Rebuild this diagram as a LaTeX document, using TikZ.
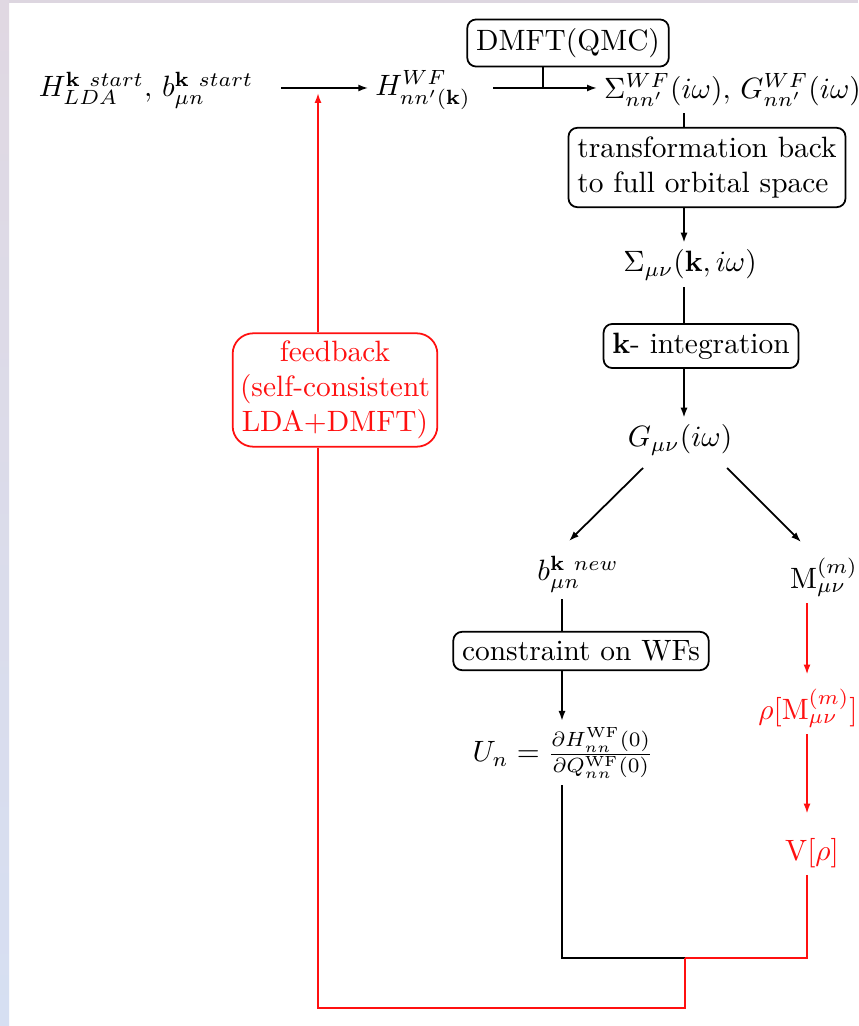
\documentclass[tikz,border=0pt]{standalone}
\usetikzlibrary{arrows.meta}
\definecolor{bandtop}{HTML}{DDD6E0}
\definecolor{stripA}{HTML}{E0D8E2}
\definecolor{stripB}{HTML}{C0CFEE}
\definecolor{stripC}{HTML}{D6DFF2}
\definecolor{fbred}{HTML}{FF1010}
\begin{document}
\begin{tikzpicture}[x=0.34pt,y=-0.34pt,
  box/.style={draw, rounded corners=3pt, inner sep=3pt, line width=0.6pt},
  lbl/.style={inner sep=2.2pt},
  conn/.style={line width=0.6pt},
  arr/.style={conn,-{Latex[length=3.4pt,width=2.4pt]}},
  redc/.style={draw=fbred, text=fbred}]
% background
\fill[white] (0,0) rectangle (858,1026);
\fill[bandtop] (0,0) rectangle (858,3);
\shade[top color=stripA, middle color=stripB, bottom color=stripC] (0,0) rectangle (9,1026);
\useasboundingbox (0,0) rectangle (858,1026);

% nodes
\node[lbl] (start) at (146,90) {$H_{LDA}^{\mathbf{k}\ start},\, b_{\mu n}^{\mathbf{k}\ start}$};
\node[lbl] (hwf) at (423,90) {$H^{WF}_{nn'(\mathbf{k})}$};
\node[lbl, anchor=west] (sigwf) at (597,90) {$\Sigma^{WF}_{nn'}(i\omega),\, G^{WF}_{nn'}(i\omega)$};
\node[box] (dmft) at (568,43) {DMFT(QMC)};
\node[box, align=left] (trans) at (707,167.5) {transformation back\\to full orbital space};
\node[lbl] (sigmn) at (690,265) {$\Sigma_{\mu\nu}(\mathbf{k},i\omega)$};
\node[box] (kint) at (701,346) {$\mathbf{k}$- integration};
\node[lbl] (gmn) at (680,440) {$G_{\mu\nu}(i\omega)$};
\node[lbl] (bnew) at (578,574) {$b^{\mathbf{k}\ new}_{\mu n}$};
\node[lbl] (mmn) at (824,577) {$\mathrm{M}^{(m)}_{\mu\nu}$};
\node[box] (constr) at (581,651) {constraint on WFs};
\node[lbl] (un) at (563,753) {$U_n=\frac{\partial H^{\rm WF}_{nn}(0)}{\partial Q^{\rm WF}_{nn}(0)}$};
\node[lbl, text=fbred] (rho) at (808,708) {$\rho[\mathrm{M}^{(m)}_{\mu\nu}]$};
\node[lbl, text=fbred] (vrho) at (812,853) {$\mathrm{V}[\rho]$};
\node[box, redc, rounded corners=7pt, align=center, inner sep=2.5pt] (fb) at (335,390) {feedback\\(self-consistent\\LDA+DMFT)};

% helper coordinates
\coordinate (a1s) at (281,88);
\coordinate (a2s) at (493,88);
\coordinate (dj) at (543,88);
\coordinate (colA) at (684,0);
\coordinate (colB) at (562,0);
\coordinate (colC) at (807,0);
\coordinate (fbx) at (318,0);
\coordinate (dl1) at (643,468);
\coordinate (dl2) at (569,541);
\coordinate (dr1) at (727,468);
\coordinate (dr2) at (801,542);
\coordinate (jn) at (685,958);
\coordinate (bot) at (318,1008);
\coordinate (fbtip) at (318,93);

% black connectors
\draw[arr] (a1s) -- (hwf.west |- a1s);
\draw[arr] (a2s) -- (sigwf.west |- a2s);
\draw[conn] (dmft.south -| dj) -- (dj);
\draw[conn] (colA |- sigwf.south) -- (colA |- trans.north);
\draw[arr] (colA |- trans.south) -- (colA |- sigmn.north);
\draw[conn] (colA |- sigmn.south) -- (colA |- kint.north);
\draw[arr] (colA |- kint.south) -- (colA |- gmn.north);
\draw[arr] (dl1) -- (dl2);
\draw[arr] (dr1) -- (dr2);
\draw[conn] (colB |- bnew.south) -- (colB |- constr.north);
\draw[arr] (colB |- constr.south) -- (colB |- un.north);
\draw[conn] (colB |- un.south) -- (colB |- jn) -- (jn);

% red connectors
\draw[arr, fbred] (colC |- mmn.south) -- ([yshift=2.5pt]colC |- rho.north);
\draw[arr, fbred] (colC |- rho.south) -- ([yshift=6pt]colC |- vrho.north);
\draw[conn, fbred] (colC |- vrho.south) -- (colC |- jn) -- (jn);
\draw[conn, fbred] (jn) -- (jn |- bot) -- (bot) -- (fbx |- fb.south);
\draw[arr, fbred] (fbx |- fb.north) -- (fbtip);
\end{tikzpicture}
\end{document}
